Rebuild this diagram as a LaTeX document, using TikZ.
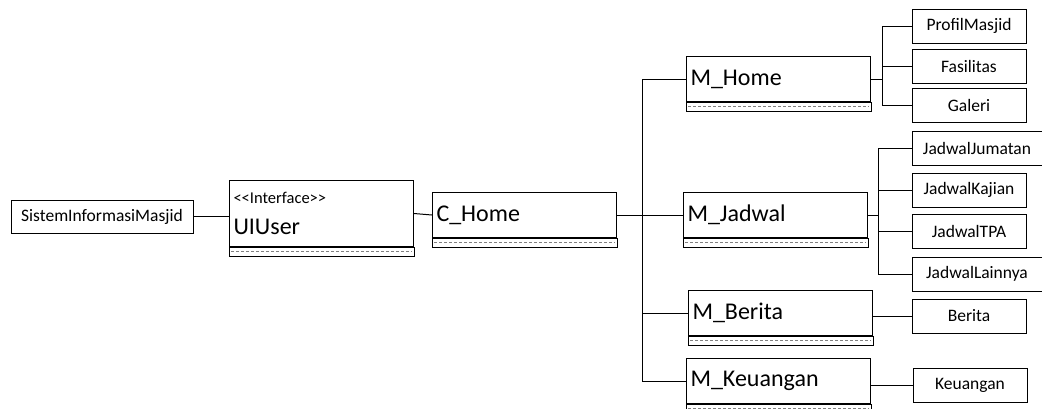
\documentclass[tikz,border=0pt]{standalone}
\usepackage{fontspec}
\setmainfont{Carlito}
\begin{document}
\begin{tikzpicture}[x=1pt,y=-1pt]

\clip (0,0) rectangle (1042,408);

\tikzstyle{every node}=[draw,shape=rectangle,line width=1pt,inner sep=0pt,font=\fontsize{17.5}{20}\selectfont];
\tikzstyle{cls}=[anchor=north west,minimum height=45pt,text width=176pt,inner xsep=4pt,align=left,font=\fontsize{24}{28}\selectfont];
\tikzstyle{leaf}=[minimum width=114pt,minimum height=34pt];

% Draw the interface and the class boxes
\node[leaf,minimum width=182pt,minimum height=33pt] (sim) at (102,216.5) {SistemInformasiMasjid};
\node[cls,minimum height=66pt] (uiuser) at (229,180) {\fontsize{16.5}{18}\selectfont <\kern0pt<Interface>\kern0pt>\\[3pt]\fontsize{24}{28}\selectfont UIUser};
\draw[line width=1pt] (uiuser.south west) rectangle ([yshift=-9pt]uiuser.south east);
\draw[gray,densely dashed,line width=0.4pt] ([xshift=2pt,yshift=-4.5pt]uiuser.south west) -- ([xshift=-2pt,yshift=-4.5pt]uiuser.south east);

\foreach \name/\x/\y/\txt in {chome/432/192/C\_Home,mhome/686/56/M\_Home,mjadwal/683/192/M\_Jadwal,mberita/688/290/M\_Berita,mkeu/686/358/M\_Keuangan}
{
  \node[cls] (\name) at (\x,\y) {\txt};
  \draw[line width=1pt] (\name.south west) rectangle ([yshift=-9pt]\name.south east);
  \draw[gray,densely dashed,line width=0.4pt] ([xshift=2pt,yshift=-4.5pt]\name.south west) -- ([xshift=-2pt,yshift=-4.5pt]\name.south east);
}

% Draw the leaf boxes
\node[leaf] (profil) at (969,26) {ProfilMasjid};
\node[leaf] (fasilitas) at (969,66) {Fasilitas};
\node[leaf] (galeri) at (969,105) {Galeri};
\node[leaf,minimum width=130pt] (jumatan) at (977,148) {JadwalJumatan};
\node[leaf] (kajian) at (969,190) {JadwalKajian};
\node[leaf] (tpa) at (969,231.5) {JadwalTPA};
\node[leaf,minimum width=130pt] (lainnya) at (977,274) {JadwalLainnya};
\node[leaf] (berita) at (969,316) {Berita};
\node[leaf] (keuangan) at (970,385) {Keuangan};

% Links between the boxes
\draw[line width=1pt] (sim.east) -- (sim.east -| uiuser.west);
\draw[line width=1pt] (uiuser.east) -- (chome.west);
\draw[line width=1pt] (chome.east) -- ++(25,0) coordinate (cbus);
\foreach \m in {mhome,mjadwal,mberita,mkeu}
   \draw[line width=1pt] (cbus) |- (\m.west);

\draw[line width=1pt] (mhome.east) -- ++(11,0) coordinate (hbus);
\foreach \l in {profil,fasilitas,galeri}
   \draw[line width=1pt] (hbus) |- (\l.west);

\draw[line width=1pt] (mjadwal.east) -- ++(10,0) coordinate (jbus);
\foreach \l in {jumatan,kajian,tpa,lainnya}
   \draw[line width=1pt] (jbus) |- (\l.west);

\draw[line width=1pt] (berita.west -| mberita.east) -- (berita.west);
\draw[line width=1pt] (keuangan.west -| mkeu.east) -- (keuangan.west);

\end{tikzpicture}
\end{document}
